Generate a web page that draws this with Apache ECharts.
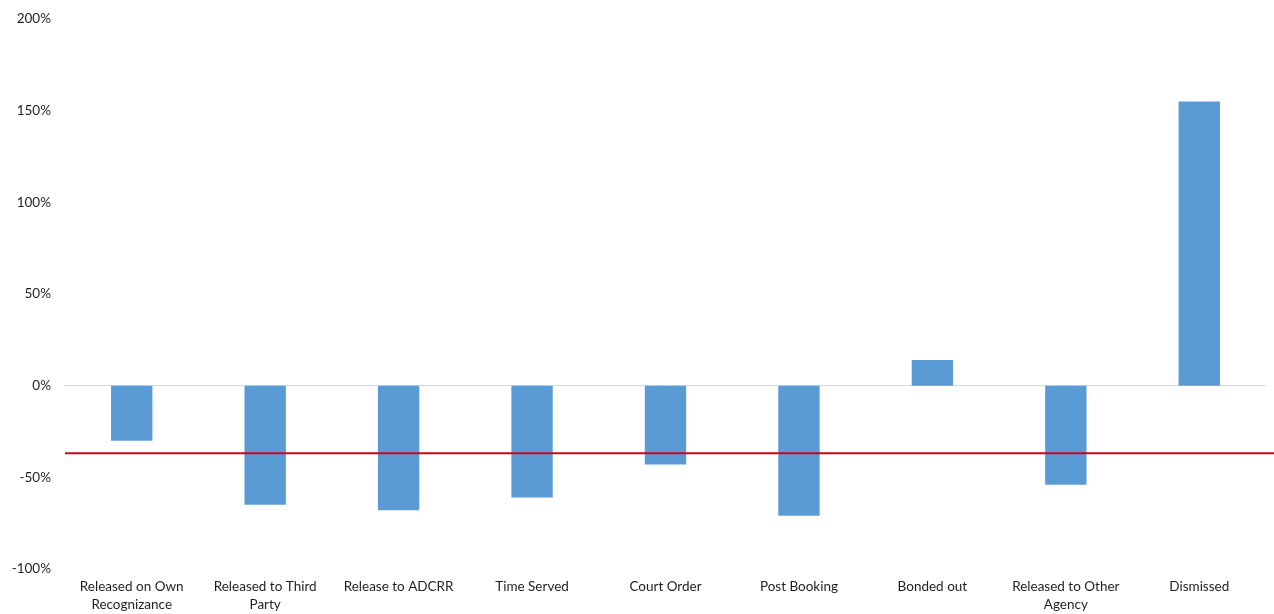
<!DOCTYPE html>
<html>
<head>
<meta charset="utf-8">
<title>Change by release type</title>
<script src="https://cdn.jsdelivr.net/npm/echarts@6/dist/echarts.min.js"></script>
<style>
  html, body { margin: 0; padding: 0; background: #ffffff; }
  #chart { width: 1274px; height: 614px; }
</style>
</head>
<body>
<div id="chart"></div>
<script>
// Release types along the horizontal axis
const categories = [
  'Released on Own\nRecognizance',
  'Released to Third\nParty',
  'Release to ADCRR',
  'Time Served',
  'Court Order',
  'Post Booking',
  'Bonded out',
  'Released to Other\nAgency',
  'Dismissed'
];

// Percent change for each release type
const changePct = [-30, -65, -68, -61, -43, -71, 14, -54, 155];

// Overall change, drawn as a reference line across the chart
const overallPct = -36;
const overallLine = [[0, overallPct], [1, overallPct]];

// Value axis range and step
const yMin = -100;
const yMax = 200;
const yStep = 50;

const chart = echarts.init(document.getElementById('chart'), null, { renderer: 'canvas' });

const fontFamily = 'Lato, "Open Sans", "DejaVu Sans", sans-serif';

chart.setOption({
  backgroundColor: '#ffffff',
  animation: false,
  grid: [
    { left: 65, right: 8, top: 19, bottom: 43, containLabel: false },
    { left: 65, right: 0, top: 19, bottom: 43, containLabel: false }
  ],
  xAxis: [
    {
      type: 'category',
      gridIndex: 0,
      data: categories,
      position: 'bottom',
      axisLine: { show: true, onZero: true, lineStyle: { color: '#d9d9d9', width: 1 } },
      axisTick: { show: false },
      axisLabel: {
        color: '#1f1f1f',
        fontFamily: fontFamily,
        fontSize: 13.5,
        lineHeight: 18,
        interval: 0,
        margin: 9,
        verticalAlign: 'top'
      }
    },
    {
      type: 'value',
      gridIndex: 1,
      min: 0,
      max: 1,
      show: false
    }
  ],
  yAxis: [
    {
      type: 'value',
      gridIndex: 0,
      min: yMin,
      max: yMax,
      interval: yStep,
      axisLine: { show: false },
      axisTick: { show: false },
      splitLine: { show: false },
      axisLabel: {
        color: '#1f1f1f',
        fontFamily: fontFamily,
        fontSize: 13.5,
        margin: 14,
        formatter: '{value}%'
      }
    },
    {
      type: 'value',
      gridIndex: 1,
      min: yMin,
      max: yMax,
      show: false
    }
  ],
  series: [
    {
      name: 'Change',
      type: 'bar',
      xAxisIndex: 0,
      yAxisIndex: 0,
      data: changePct,
      barWidth: '31%',
      itemStyle: { color: '#5b9bd5' }
    },
    {
      name: 'Overall',
      type: 'line',
      xAxisIndex: 1,
      yAxisIndex: 1,
      data: overallLine,
      symbol: 'none',
      z: 5,
      lineStyle: { color: '#d0021b', width: 2 }
    }
  ]
});
</script>
</body>
</html>
